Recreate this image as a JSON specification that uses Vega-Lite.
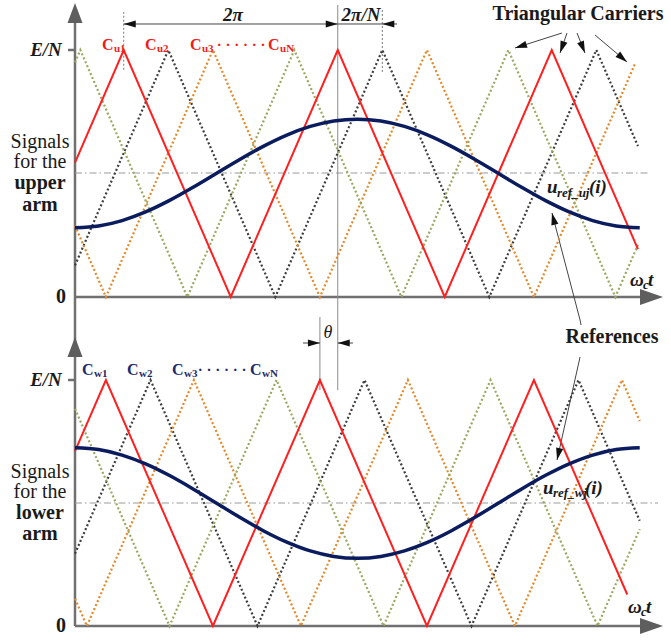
{
  "$schema": "https://vega.github.io/schema/vega-lite/v6.json",
  "padding": 0,
  "spacing": 0,
  "bounds": "flush",
  "background": "white",
  "config": {"view": {"stroke": null}, "text": {"font": "Liberation Serif", "color": "#1a1a1a"}},
  "resolve": {"scale": {"x": "independent", "y": "independent"}},
  "vconcat": [
    {
      "width": 671,
      "height": 320,
      "encoding": {
        "x": {"field": "x", "type": "quantitative", "scale": {"domain": [-126.17, 1002.6], "nice": false, "zero": false}, "axis": null},
        "y": {"field": "v", "type": "quantitative", "scale": {"domain": [-0.0931, 1.2024], "nice": false, "zero": false}, "axis": null}
      },
      "layer": [
        {"data": {"values": [
          {"x": 0, "x2": 0, "v": -0.0931, "v2": 1.12},
          {"x": 0, "x2": 958.9, "v": 0, "v2": 0},
          {"x": -11.8, "x2": 0, "v": 1, "v2": 1}]},
         "mark": {"type": "rule", "color": "#707070", "strokeWidth": 2.5},
         "encoding": {"x2": {"field": "x2"}, "y2": {"field": "v2"}}},
        {"data": {"values": [{"x": 0, "x2": 967.3, "v": 0.502, "v2": 0.502}]},
         "mark": {"type": "rule", "color": "#9a9a9a", "strokeWidth": 1, "strokeDash": [7, 3, 1.5, 3]},
         "encoding": {"x2": {"field": "x2"}, "y2": {"field": "v2"}}},
        {"data": {"values": [
          {"x": 442, "x2": 442, "v": -0.0931, "v2": 1.182},
          {"x": 412, "x2": 412, "v": -0.0931, "v2": -0.081}]},
         "mark": {"type": "rule", "color": "#8a8a8a", "strokeWidth": 1},
         "encoding": {"x2": {"field": "x2"}, "y2": {"field": "v2"}}},
        {"data": {"values": [
          {"x": 82, "x2": 82, "v": 0.92, "v2": 1.1538},
          {"x": 517, "x2": 517, "v": 0.911, "v2": 1.162}]},
         "mark": {"type": "rule", "color": "#777777", "strokeWidth": 1, "strokeDash": [2, 2]},
         "encoding": {"x2": {"field": "x2"}, "y2": {"field": "v2"}}},
        {"data": {"values": [
          {"x": 82, "x2": 541.7, "v": 1.1053, "v2": 1.1053},
          {"x": 819.2, "x2": 740.2, "v": 1.0688, "v2": 1.0081},
          {"x": 827.7, "x2": 815.9, "v": 1.0688, "v2": 0.9879},
          {"x": 844.5, "x2": 857.9, "v": 1.0688, "v2": 0.9879},
          {"x": 874.8, "x2": 928.6, "v": 1.0607, "v2": 0.9514},
          {"x": 802.4, "x2": 849.6, "v": 0.3401, "v2": -0.0931}]},
         "mark": {"type": "rule", "color": "#444444", "strokeWidth": 1},
         "encoding": {"x2": {"field": "x2"}, "y2": {"field": "v2"}}},
        {"data": {"values": [
          {"c": "2", "x": 0, "v": 0.128}, {"c": "2", "x": 157, "v": 1}, {"c": "2", "x": 337, "v": 0}, {"c": "2", "x": 517, "v": 1}, {"c": "2", "x": 697, "v": 0}, {"c": "2", "x": 877, "v": 1}, {"c": "2", "x": 947, "v": 0.611},
          {"c": "3", "x": 0, "v": 0.289}, {"c": "3", "x": 52, "v": 0}, {"c": "3", "x": 232, "v": 1}, {"c": "3", "x": 412, "v": 0}, {"c": "3", "x": 592, "v": 1}, {"c": "3", "x": 772, "v": 0}, {"c": "3", "x": 942, "v": 0.944},
          {"c": "N", "x": 0, "v": 0.95}, {"c": "N", "x": 9, "v": 1}, {"c": "N", "x": 189, "v": 0}, {"c": "N", "x": 369, "v": 1}, {"c": "N", "x": 549, "v": 0}, {"c": "N", "x": 729, "v": 1}, {"c": "N", "x": 909, "v": 0}, {"c": "N", "x": 947, "v": 0.211}]},
         "mark": {"type": "line", "strokeWidth": 2.2, "strokeDash": [2, 2.3]},
         "encoding": {"color": {"field": "c", "type": "nominal", "scale": {"domain": ["2", "3", "N"], "range": ["#3d3d3d", "#e08a2c", "#9aa862"]}, "legend": null}}},
        {"data": {"values": [
          {"x": 0, "v": 0.544}, {"x": 82, "v": 1}, {"x": 262, "v": 0}, {"x": 442, "v": 1}, {"x": 622, "v": 0}, {"x": 802, "v": 1}, {"x": 947, "v": 0.194}]},
         "mark": {"type": "line", "color": "#ff1f1f", "strokeWidth": 2}},
        {"data": {"values": [
          {"x": 0, "v": 0.28}, {"x": 39.6, "v": 0.2875}, {"x": 79.2, "v": 0.3095}, {"x": 118.8, "v": 0.3444}, {"x": 158.3, "v": 0.39}, {"x": 197.9, "v": 0.4431}, {"x": 237.5, "v": 0.5}, {"x": 277.1, "v": 0.5569}, {"x": 316.7, "v": 0.61}, {"x": 356.3, "v": 0.6556}, {"x": 395.8, "v": 0.6905}, {"x": 435.4, "v": 0.7125}, {"x": 475, "v": 0.72}, {"x": 514.6, "v": 0.7125}, {"x": 554.2, "v": 0.6905}, {"x": 593.8, "v": 0.6556}, {"x": 633.3, "v": 0.61}, {"x": 672.9, "v": 0.5569}, {"x": 712.5, "v": 0.5}, {"x": 752.1, "v": 0.4431}, {"x": 791.7, "v": 0.39}, {"x": 831.3, "v": 0.3444}, {"x": 870.8, "v": 0.3095}, {"x": 910.4, "v": 0.2875}, {"x": 950, "v": 0.28}]},
         "mark": {"type": "line", "color": "#0b1c5e", "strokeWidth": 3.5, "interpolate": "monotone"}},
        {"data": {"values": [{"x": 0, "v": 1.1903}]},
         "mark": {"type": "point", "shape": "M0,0L-0.75,2L0.75,2Z", "size": 400, "filled": true, "color": "#5e5e5e", "opacity": 1}},
        {"data": {"values": [{"x": 989.1, "v": 0}]},
         "mark": {"type": "point", "shape": "M0,0L-2,-0.7L-2,0.7Z", "size": 529, "filled": true, "color": "#5e5e5e", "opacity": 1}},
        {"data": {"values": [{"x": 82, "v": 1.1053}, {"x": 517, "v": 1.1053}]},
         "mark": {"type": "point", "shape": "M0,0L2,-0.6L2,0.6Z", "size": 144, "filled": true, "color": "#111111", "opacity": 1}},
        {"data": {"values": [{"x": 442, "v": 1.1053}]},
         "mark": {"type": "point", "shape": "M0,0L-2,-0.6L-2,0.6Z", "size": 144, "filled": true, "color": "#111111", "opacity": 1}},
        {"data": {"values": [{"x": 740.2, "v": 1.0081}]},
         "mark": {"type": "point", "shape": "M0,0L-0.6,2L0.6,2Z", "size": 144, "filled": true, "color": "#111111", "opacity": 1, "angle": -107.7}},
        {"data": {"values": [{"x": 815.9, "v": 0.9879}]},
         "mark": {"type": "point", "shape": "M0,0L-0.6,2L0.6,2Z", "size": 144, "filled": true, "color": "#111111", "opacity": 1, "angle": -160.7}},
        {"data": {"values": [{"x": 857.9, "v": 0.9879}]},
         "mark": {"type": "point", "shape": "M0,0L-0.6,2L0.6,2Z", "size": 144, "filled": true, "color": "#111111", "opacity": 1, "angle": 158.2}},
        {"data": {"values": [{"x": 928.6, "v": 0.9514}]},
         "mark": {"type": "point", "shape": "M0,0L-0.6,2L0.6,2Z", "size": 144, "filled": true, "color": "#111111", "opacity": 1, "angle": 130.2}},
        {"data": {"values": [{"x": 802.4, "v": 0.3401}]},
         "mark": {"type": "point", "shape": "M0,0L-0.6,2L0.6,2Z", "size": 144, "filled": true, "color": "#111111", "opacity": 1, "angle": -13.9}},
        {"data": {"values": [{"t": "Signals", "x": -58.9, "v": 0.6275}, {"t": "for the", "x": -58.9, "v": 0.5466}]},
         "mark": {"type": "text", "fontSize": 20},
         "encoding": {"text": {"field": "t"}}},
        {"data": {"values": [{"t": "upper", "x": -58.9, "v": 0.4615}, {"t": "arm", "x": -58.9, "v": 0.3725}, {"t": "0", "x": -23.6, "v": 0}, {"t": "Triangular Carriers", "x": 846.2, "v": 1.1457}]},
         "mark": {"type": "text", "fontSize": 20, "fontWeight": "bold"},
         "encoding": {"text": {"field": "t"}}},
        {"data": {"values": [{"t": "E/N", "x": -48.8, "v": 1}, {"t": "2π", "x": 265.8, "v": 1.1417}, {"t": "2π/N", "x": 481.1, "v": 1.1417}]},
         "mark": {"type": "text", "fontSize": 19, "fontWeight": "bold", "fontStyle": "italic"},
         "encoding": {"text": {"field": "t"}}},
        {"data": {"values": [{"t": "u", "x": 794.0, "v": 0.4453}, {"t": "(i)", "x": 864.6, "v": 0.4453}, {"t": "ω", "x": 933.6, "v": 0.0688}, {"t": "t", "x": 963.9, "v": 0.0688}]},
         "mark": {"type": "text", "fontSize": 19, "fontWeight": "bold", "fontStyle": "italic", "align": "left"},
         "encoding": {"text": {"field": "t"}}},
        {"data": {"values": [{"t": "ref_uj", "x": 810.8, "v": 0.421}, {"t": "c", "x": 955.5, "v": 0.0486}]},
         "mark": {"type": "text", "fontSize": 13, "fontWeight": "bold", "fontStyle": "italic", "align": "left"},
         "encoding": {"text": {"field": "t"}}},
        {"data": {"values": [{"t": "C", "x": 45.4, "v": 1.0202}, {"t": "C", "x": 117.8, "v": 1.0202}, {"t": "C", "x": 193.5, "v": 1.0202}, {"t": "C", "x": 324.7, "v": 1.0202}]},
         "mark": {"type": "text", "fontSize": 16, "fontWeight": "bold", "align": "left", "color": "#f01c1c"},
         "encoding": {"text": {"field": "t"}}},
        {"data": {"values": [{"t": "u1", "x": 65.6, "v": 1.004}, {"t": "u2", "x": 137.9, "v": 1.004}, {"t": "u3", "x": 213.6, "v": 1.004}, {"t": "uN", "x": 344.9, "v": 1.004}]},
         "mark": {"type": "text", "fontSize": 11, "fontWeight": "bold", "align": "left", "color": "#f01c1c"},
         "encoding": {"text": {"field": "t"}}},
        {"data": {"values": [{"t": "· · · · · ·", "x": 279.3, "v": 1.0202}]},
         "mark": {"type": "text", "fontSize": 15, "fontWeight": "bold", "color": "#f01c1c"},
         "encoding": {"text": {"field": "t"}}}
      ]
    },
    {
      "width": 671,
      "height": 320,
      "encoding": {
        "x": {"field": "x", "type": "quantitative", "scale": {"domain": [-126.17, 1002.6], "nice": false, "zero": false}, "axis": null},
        "y": {"field": "v", "type": "quantitative", "scale": {"domain": [-0.0569, 1.2439], "nice": false, "zero": false}, "axis": null}
      },
      "layer": [
        {"data": {"values": [
          {"x": 0, "x2": 0, "v": 0, "v2": 1.2439},
          {"x": 0, "x2": 958.9, "v": 0, "v2": 0},
          {"x": -11.8, "x2": 0, "v": 1, "v2": 1}]},
         "mark": {"type": "rule", "color": "#707070", "strokeWidth": 2.5},
         "encoding": {"x2": {"field": "x2"}, "y2": {"field": "v2"}}},
        {"data": {"values": [{"x": 0, "x2": 980.7, "v": 0.5, "v2": 0.5}]},
         "mark": {"type": "rule", "color": "#9a9a9a", "strokeWidth": 1, "strokeDash": [7, 3, 1.5, 3]},
         "encoding": {"x2": {"field": "x2"}, "y2": {"field": "v2"}}},
        {"data": {"values": [
          {"x": 442, "x2": 442, "v": 0.959, "v2": 1.2439},
          {"x": 412, "x2": 412, "v": 0.959, "v2": 1.2439}]},
         "mark": {"type": "rule", "color": "#8a8a8a", "strokeWidth": 1},
         "encoding": {"x2": {"field": "x2"}, "y2": {"field": "v2"}}},
        {"data": {"values": [
          {"x": 383.6, "x2": 412, "v": 1.1504, "v2": 1.1504},
          {"x": 442, "x2": 467.6, "v": 1.1504, "v2": 1.1504},
          {"x": 849.6, "x2": 810.9, "v": 1.0935, "v2": 0.6748},
          {"x": 849.6, "x2": 851.3, "v": 1.2439, "v2": 1.2236}]},
         "mark": {"type": "rule", "color": "#444444", "strokeWidth": 1},
         "encoding": {"x2": {"field": "x2"}, "y2": {"field": "v2"}}},
        {"data": {"values": [
          {"c": "2", "x": 0, "v": 0.294}, {"c": "2", "x": 127, "v": 1}, {"c": "2", "x": 307, "v": 0}, {"c": "2", "x": 487, "v": 1}, {"c": "2", "x": 667, "v": 0}, {"c": "2", "x": 847, "v": 1}, {"c": "2", "x": 950, "v": 0.428},
          {"c": "3", "x": 0, "v": 0.111}, {"c": "3", "x": 20, "v": 0}, {"c": "3", "x": 200, "v": 1}, {"c": "3", "x": 380, "v": 0}, {"c": "3", "x": 560, "v": 1}, {"c": "3", "x": 740, "v": 0}, {"c": "3", "x": 920, "v": 1}, {"c": "3", "x": 950, "v": 0.833},
          {"c": "N", "x": 0, "v": 0.883}, {"c": "N", "x": 159, "v": 0}, {"c": "N", "x": 339, "v": 1}, {"c": "N", "x": 519, "v": 0}, {"c": "N", "x": 699, "v": 1}, {"c": "N", "x": 879, "v": 0}, {"c": "N", "x": 950, "v": 0.394}]},
         "mark": {"type": "line", "strokeWidth": 2.2, "strokeDash": [2, 2.3]},
         "encoding": {"color": {"field": "c", "type": "nominal", "scale": {"domain": ["2", "3", "N"], "range": ["#3d3d3d", "#e08a2c", "#9aa862"]}, "legend": null}}},
        {"data": {"values": [
          {"x": 0, "v": 0.711}, {"x": 52, "v": 1}, {"x": 232, "v": 0}, {"x": 412, "v": 1}, {"x": 592, "v": 0}, {"x": 772, "v": 1}, {"x": 929, "v": 0.128}]},
         "mark": {"type": "line", "color": "#ff1f1f", "strokeWidth": 2}},
        {"data": {"values": [
          {"x": 0, "v": 0.725}, {"x": 39.6, "v": 0.7173}, {"x": 79.2, "v": 0.6949}, {"x": 118.8, "v": 0.6591}, {"x": 158.3, "v": 0.6125}, {"x": 197.9, "v": 0.5582}, {"x": 237.5, "v": 0.5}, {"x": 277.1, "v": 0.4418}, {"x": 316.7, "v": 0.3875}, {"x": 356.3, "v": 0.3409}, {"x": 395.8, "v": 0.3051}, {"x": 435.4, "v": 0.2827}, {"x": 475, "v": 0.275}, {"x": 514.6, "v": 0.2827}, {"x": 554.2, "v": 0.3051}, {"x": 593.8, "v": 0.3409}, {"x": 633.3, "v": 0.3875}, {"x": 672.9, "v": 0.4418}, {"x": 712.5, "v": 0.5}, {"x": 752.1, "v": 0.5582}, {"x": 791.7, "v": 0.6125}, {"x": 831.3, "v": 0.6591}, {"x": 870.8, "v": 0.6949}, {"x": 910.4, "v": 0.7173}, {"x": 950, "v": 0.725}]},
         "mark": {"type": "line", "color": "#0b1c5e", "strokeWidth": 3.5, "interpolate": "monotone"}},
        {"data": {"values": [{"x": 0, "v": 1.1748}]},
         "mark": {"type": "point", "shape": "M0,0L-0.75,2L0.75,2Z", "size": 400, "filled": true, "color": "#5e5e5e", "opacity": 1}},
        {"data": {"values": [{"x": 989.1, "v": 0}]},
         "mark": {"type": "point", "shape": "M0,0L-2,-0.7L-2,0.7Z", "size": 529, "filled": true, "color": "#5e5e5e", "opacity": 1}},
        {"data": {"values": [{"x": 412, "v": 1.1504}]},
         "mark": {"type": "point", "shape": "M0,0L-2,-0.6L-2,0.6Z", "size": 144, "filled": true, "color": "#111111", "opacity": 1}},
        {"data": {"values": [{"x": 442, "v": 1.1504}]},
         "mark": {"type": "point", "shape": "M0,0L2,-0.6L2,0.6Z", "size": 144, "filled": true, "color": "#111111", "opacity": 1}},
        {"data": {"values": [{"x": 810.9, "v": 0.6748}]},
         "mark": {"type": "point", "shape": "M0,0L-0.6,2L0.6,2Z", "size": 144, "filled": true, "color": "#111111", "opacity": 1, "angle": -167.4}},
        {"data": {"values": [{"t": "Signals", "x": -58.9, "v": 0.626}, {"t": "for the", "x": -58.9, "v": 0.5447}]},
         "mark": {"type": "text", "fontSize": 20},
         "encoding": {"text": {"field": "t"}}},
        {"data": {"values": [{"t": "lower", "x": -58.9, "v": 0.4593}, {"t": "arm", "x": -58.9, "v": 0.374}, {"t": "0", "x": -23.6, "v": 0}, {"t": "References", "x": 903.4, "v": 1.1748}]},
         "mark": {"type": "text", "fontSize": 20, "fontWeight": "bold"},
         "encoding": {"text": {"field": "t"}}},
        {"data": {"values": [{"t": "E/N", "x": -48.8, "v": 1}]},
         "mark": {"type": "text", "fontSize": 19, "fontWeight": "bold", "fontStyle": "italic"},
         "encoding": {"text": {"field": "t"}}},
        {"data": {"values": [{"t": "θ", "x": 425.6, "v": 1.191}]},
         "mark": {"type": "text", "fontSize": 18, "fontStyle": "italic"},
         "encoding": {"text": {"field": "t"}}},
        {"data": {"values": [{"t": "u", "x": 787.3, "v": 0.561}, {"t": "(i)", "x": 857.9, "v": 0.561}, {"t": "ω", "x": 930.3, "v": 0.0772}, {"t": "t", "x": 960.5, "v": 0.0772}]},
         "mark": {"type": "text", "fontSize": 19, "fontWeight": "bold", "fontStyle": "italic", "align": "left"},
         "encoding": {"text": {"field": "t"}}},
        {"data": {"values": [{"t": "ref_wj", "x": 804.1, "v": 0.5407}, {"t": "c", "x": 952.1, "v": 0.0569}]},
         "mark": {"type": "text", "fontSize": 13, "fontWeight": "bold", "fontStyle": "italic", "align": "left"},
         "encoding": {"text": {"field": "t"}}},
        {"data": {"values": [{"t": "C", "x": 11.8, "v": 1.0407}, {"t": "C", "x": 87.5, "v": 1.0407}, {"t": "C", "x": 163.2, "v": 1.0407}, {"t": "C", "x": 294.4, "v": 1.0407}]},
         "mark": {"type": "text", "fontSize": 16, "fontWeight": "bold", "align": "left", "color": "#1c2b6b"},
         "encoding": {"text": {"field": "t"}}},
        {"data": {"values": [{"t": "w1", "x": 32.0, "v": 1.0244}, {"t": "w2", "x": 107.7, "v": 1.0244}, {"t": "w3", "x": 183.4, "v": 1.0244}, {"t": "wN", "x": 314.6, "v": 1.0244}]},
         "mark": {"type": "text", "fontSize": 11, "fontWeight": "bold", "align": "left", "color": "#1c2b6b"},
         "encoding": {"text": {"field": "t"}}},
        {"data": {"values": [{"t": "· · · · · ·", "x": 247.3, "v": 1.0407}]},
         "mark": {"type": "text", "fontSize": 15, "fontWeight": "bold", "color": "#1c2b6b"},
         "encoding": {"text": {"field": "t"}}}
      ]
    }
  ]
}
